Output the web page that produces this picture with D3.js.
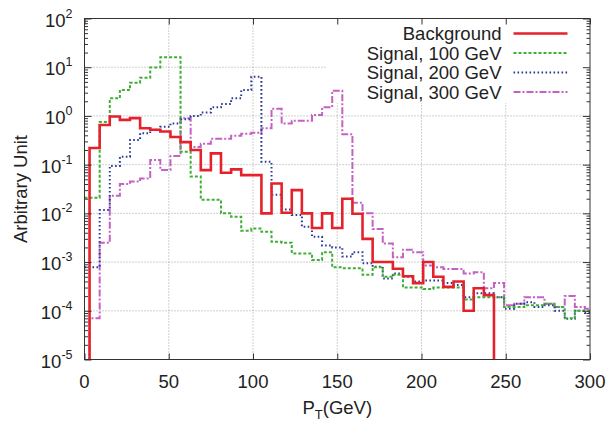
<!DOCTYPE html>
<html>
<head>
<meta charset="utf-8">
<script src="https://cdnjs.cloudflare.com/ajax/libs/d3/7.8.5/d3.min.js"></script>
<style>
  body { margin: 0; background: #fff; }
  svg { font-family: "Liberation Sans", Arial, sans-serif; }
</style>
</head>
<body>
<div class="wrapper"></div>
<script>
// bin centres (GeV), 6 GeV wide bins
var ptBins = [0, 6, 12, 18, 24, 30, 36, 42, 48, 54, 60, 66, 72, 78, 84, 90, 96, 102, 108, 114,
  120, 126, 132, 138, 144, 150, 156, 162, 168, 174, 180, 186, 192, 198, 204, 210, 216, 222, 228, 234,
  240, 246, 252, 258, 264, 270, 276, 282, 288, 294, 300];

// 0 = empty bin (below the axis)
var background = [0, .22, .65, .97, .83, .9, .56, .52, .48, .37,
  .29, .2, .077, .17, .068, .08, .061, .061, .01, .041,
  .0103, .03, .01, .005, .01, .005, .02, .0098, .003, .001,
  .001, .00073, .00051, .00037, .001, .0005, .00031, .0004, .0001, .00029,
  .00021, 0, 0, 0, 0, 0, 0, 0, 0, 0,
  0];
var signal100 = [.021, .021, .75, 2.3, 3.4, 4.8, 6.1, 9.9, 16, 16,
  .185, .057, .019, .019, .01, .0085, .0044, .0049, .0042, .0026,
  .0025, .0015, .0015, .0011, .0016, .00078, .00075, .00075, .00055, .00078,
  .0005, .00055, .0003, .0003, .00028, .0003, .0003, .0003, .00017, .00019,
  .00019, .00019, .00012, .00012, .00013, .00013, .00014, .00012, .00007, .0001,
  .0001];
var signal200 = [.00078, .00078, .0117, .094, .146, .32, .44, .52, .6, .7,
  .85, 1.0, 1.17, 1.5, 1.76, 2.3, 3.4, 6.4, .115, .024,
  .012, .0093, .0053, .0033, .0022, .002, .0013, .0016, .00095, .0008,
  .00046, .00058, .0005, .0004, .00042, .00042, .00037, .00034, .00019, .00023,
  .00023, .00019, .00011, .00014, .00015, .00012, .00013, .0001, .000069, .0001,
  .00009];
var signal300 = [0, .00007, .0025, .023, .04, .045, .052, .125, .078, .15,
  .9, .23, .27, .34, .34, .39, .43, .45, .56, 1.4,
  .7, .8, .8, 1.05, 1.5, 3.3, .42, .0166, .01, .0048,
  .0024, .00126, .0018, .0016, .00085, .00078, .00072, .00072, .00058, .00062,
  .00029, .00037, .00013, .00014, .00019, .00019, .00014, .00012, .0002, .00012,
  .00011];

var seriesNames = ["Background", "Signal, 100 GeV", "Signal, 200 GeV", "Signal, 300 GeV"];
var xTicks = [0, 50, 100, 150, 200, 250, 300];
var yExponents = [-5, -4, -3, -2, -1, 0, 1, 2];

var W = 612, H = 423;
var margin = {top: 18.5, right: 22, bottom: 63.5, left: 84.5};
var width = W - margin.left - margin.right,
  height = H - margin.top - margin.bottom;

var svg = d3.select(".wrapper").append("svg")
  .attr("width", W)
  .attr("height", H);
var g = svg.append("g").attr("transform", "translate(" + margin.left + "," + margin.top + ")");

var x = d3.scaleLinear().domain([0, 300]).range([0, width]);
var y = d3.scaleLog().domain([1e-5, 1e2]).range([height, 0]);

var series = [
  {name: seriesNames[0], values: background, color: "#e5222b", width: 2.6, dash: null},
  {name: seriesNames[1], values: signal100, color: "#3fae35", width: 2, dash: "3,2"},
  {name: seriesNames[2], values: signal200, color: "#2b3a94", width: 2, dash: "1.6,2.4"},
  {name: seriesNames[3], values: signal300, color: "#c462c4", width: 2, dash: "7,2,2,2"}
];

// grid
g.append("g").selectAll("line")
  .data(xTicks.slice(1, -1))
  .enter().append("line")
    .attr("x1", function(d) { return x(d); })
    .attr("x2", function(d) { return x(d); })
    .attr("y1", 0)
    .attr("y2", height)
    .attr("stroke", "#9a9a9a")
    .attr("stroke-width", 0.9)
    .attr("stroke-dasharray", "1,2");
g.append("g").selectAll("line")
  .data(yExponents.slice(1, -1))
  .enter().append("line")
    .attr("x1", 0)
    .attr("x2", width)
    .attr("y1", function(d) { return y(Math.pow(10, d)); })
    .attr("y2", function(d) { return y(Math.pow(10, d)); })
    .attr("stroke", "#9a9a9a")
    .attr("stroke-width", 0.9)
    .attr("stroke-dasharray", "1,2");

// key background hides the grid behind the legend
g.append("rect")
  .attr("x", 242)
  .attr("y", 0.5)
  .attr("width", width - 242.5)
  .attr("height", 84)
  .attr("fill", "#fff");

// histograms
g.append("clipPath").attr("id", "plotclip")
  .append("rect").attr("width", width).attr("height", height);

var line = d3.line()
  .curve(d3.curveStep)
  .x(function(d, i) { return x(ptBins[i]); })
  .y(function(d) { return y(Math.max(d, 1e-9)); });

g.append("g").attr("clip-path", "url(#plotclip)")
  .selectAll("path")
  .data(series.slice().reverse())
  .enter().append("path")
    .attr("d", function(s) { return line(s.values); })
    .attr("fill", "none")
    .attr("stroke", function(s) { return s.color; })
    .attr("stroke-width", function(s) { return s.width; })
    .attr("stroke-dasharray", function(s) { return s.dash; });

// frame and ticks
g.append("rect")
  .attr("width", width)
  .attr("height", height)
  .attr("fill", "none")
  .attr("stroke", "#333")
  .attr("stroke-width", 1);

g.append("g")
  .attr("transform", "translate(0," + height + ")")
  .call(d3.axisBottom(x).tickValues(xTicks).tickSize(-6).tickFormat(""))
  .call(function(a) { a.select(".domain").remove(); });
g.append("g")
  .call(d3.axisTop(x).tickValues(xTicks).tickSize(-6).tickFormat(""))
  .call(function(a) { a.select(".domain").remove(); });

var minorTicks = y.ticks().filter(function(v) {
  return Math.abs(Math.log10(v) - Math.round(Math.log10(v))) > 1e-6;
});
var majorTicks = yExponents.map(function(e) { return Math.pow(10, e); });

[[d3.axisLeft, 0], [d3.axisRight, width]].forEach(function(p) {
  g.append("g")
    .attr("transform", "translate(" + p[1] + ",0)")
    .call(p[0](y).tickValues(minorTicks).tickSize(-3.5).tickFormat(""))
    .call(function(a) { a.select(".domain").remove(); });
  g.append("g")
    .attr("transform", "translate(" + p[1] + ",0)")
    .call(p[0](y).tickValues(majorTicks).tickSize(-7).tickFormat(""))
    .call(function(a) { a.select(".domain").remove(); });
});
g.selectAll(".tick line").attr("stroke", "#333");

// tick labels
var ylab = g.append("g")
  .attr("font-size", 18.5)
  .attr("fill", "#222")
  .attr("text-anchor", "end")
  .selectAll("text")
  .data(yExponents)
  .enter().append("text")
    .attr("x", -12)
    .attr("y", function(d) { return y(Math.pow(10, d)) + 8; });
ylab.append("tspan").text("10");
ylab.append("tspan")
  .attr("font-size", 12.5)
  .attr("dy", -9)
  .text(function(d) { return d < 0 ? "-" + (-d) : "" + d; });

g.append("g")
  .attr("font-size", 18.5)
  .attr("fill", "#222")
  .attr("text-anchor", "middle")
  .selectAll("text")
  .data(xTicks)
  .enter().append("text")
    .attr("x", function(d) { return x(d); })
    .attr("y", height + 28)
    .text(function(d) { return d; });

// axis titles
var xt = svg.append("text")
  .attr("x", margin.left + width / 2)
  .attr("y", 414)
  .attr("font-size", 18.5)
  .attr("fill", "#222")
  .attr("text-anchor", "middle");
xt.append("tspan").text("P");
xt.append("tspan").attr("font-size", 13).attr("dy", 5).text("T");
xt.append("tspan").attr("dy", -5).text("(GeV)");

svg.append("text")
  .attr("transform", "translate(27," + (margin.top + height / 2) + ") rotate(-90)")
  .attr("font-size", 18.5)
  .attr("fill", "#222")
  .attr("text-anchor", "middle")
  .text("Arbitrary Unit");

// legend
var legend = g.append("g")
  .attr("font-size", 18.5)
  .attr("fill", "#222")
  .selectAll("g")
  .data(series)
  .enter().append("g")
    .attr("transform", function(d, i) { return "translate(0," + (15 + i * 19.5) + ")"; });

legend.append("text")
  .attr("x", 417)
  .attr("y", 6.5)
  .attr("text-anchor", "end")
  .text(function(d) { return d.name; });

legend.append("line")
  .attr("x1", 429)
  .attr("x2", 483)
  .attr("stroke", function(d) { return d.color; })
  .attr("stroke-width", function(d) { return d.width; })
  .attr("stroke-dasharray", function(d) { return d.dash; });
</script>
</body>
</html>
